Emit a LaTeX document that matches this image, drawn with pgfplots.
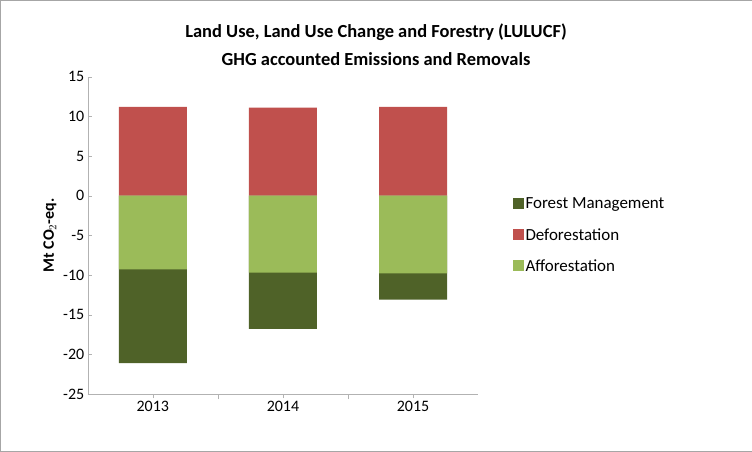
\documentclass[border=0pt]{standalone}
\usepackage{pgfplots}
\pgfplotsset{compat=1.18}
\usepackage{fontspec}
\setmainfont{Carlito}
\definecolor{fm}{HTML}{4F6228}
\definecolor{df}{HTML}{C0504D}
\definecolor{af}{HTML}{9BBB59}
\begin{document}
\begin{tikzpicture}[x=1bp,y=1bp]
\draw[gray!70,fill=white] (0.5,0.5) rectangle (751.5,451.5);
\node[font=\bfseries\fontsize{18.5}{28}\selectfont,align=center] at (376,407) {Land Use, Land Use Change and Forestry (LULUCF)\\GHG accounted Emissions and Removals};
\begin{axis}[at={(88bp,58bp)},anchor=south west,scale only axis,width=390bp,height=317bp,
 ybar,bar shift=0pt,bar width=68bp,
 xmin=-0.5,xmax=2.5,ymin=-25,ymax=15,ytick={-25,-20,...,15},
 xtick={0,1,2},xticklabels={2013,2014,2015},
 axis x line*=bottom,axis y line*=left,
 axis line style={gray!60},tick style={gray!60},
 extra x ticks={0.5,1.5},extra x tick labels={},extra x tick style={major tick length=5bp},
 major tick length=4bp,
 tick label style={font=\fontsize{16}{18}\selectfont},
 /pgf/number format/assume math mode=true,
 ylabel={\textbf{Mt CO$_2$-eq.}},ylabel style={font=\fontsize{16}{18}\selectfont},
 legend style={at={(1.08,0.5)},anchor=west,draw=none,font=\fontsize{17}{20}\selectfont,row sep=14bp,cells={anchor=west}},
 legend image code/.code={\fill[#1] (0,-5bp) rectangle (11bp,6bp);},
 xtick pos=left,ytick pos=left]
\addplot[fill=fm,draw=none] coordinates {(0,-21.1) (1,-16.8) (2,-13.1)};
\addlegendentry{Forest Management}
\addplot[fill=df,draw=none] coordinates {(0,11.2) (1,11.1) (2,11.2)};
\addlegendentry{Deforestation}
\addplot[fill=af,draw=none] coordinates {(0,-9.3) (1,-9.7) (2,-9.8)};
\addlegendentry{Afforestation}
\end{axis}
\end{tikzpicture}
\end{document}
